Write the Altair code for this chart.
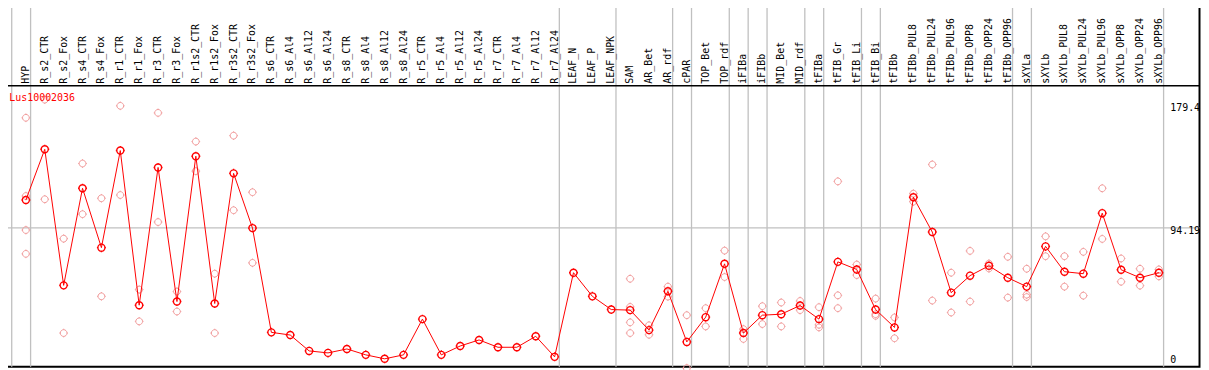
import altair as alt
import pandas as pd

gene = "Lus10002036"

samples = [
    "HYP", "R_s2_CTR", "R_s2_Fox", "R_s4_CTR", "R_s4_Fox", "R_r1_CTR", "R_r1_Fox",
    "R_r3_CTR", "R_r3_Fox", "R_r1s2_CTR", "R_r1s2_Fox", "R_r3s2_CTR", "R_r3s2_Fox",
    "R_s6_CTR", "R_s6_Al4", "R_s6_Al12", "R_s6_Al24", "R_s8_CTR", "R_s8_Al4",
    "R_s8_Al12", "R_s8_Al24", "R_r5_CTR", "R_r5_Al4", "R_r5_Al12", "R_r5_Al24",
    "R_r7_CTR", "R_r7_Al4", "R_r7_Al12", "R_r7_Al24", "LEAF_N", "LEAF_P", "LEAF_NPK",
    "SAM", "AR_Bet", "AR_rdf", "cPAR", "TOP_Bet", "TOP_rdf", "iFIBa", "iFIBb",
    "MID_Bet", "MID_rdf", "tFIBa", "tFIB_Gr", "tFIB_Li", "tFIB_Bi", "tFIBb",
    "tFIBb_PUL8", "tFIBb_PUL24", "tFIBb_PUL96", "tFIBb_OPP8", "tFIBb_OPP24",
    "tFIBb_OPP96", "sXYLa", "sXYLb", "sXYLb_PUL8", "sXYLb_PUL24", "sXYLb_PUL96",
    "sXYLb_OPP8", "sXYLb_OPP24", "sXYLb_OPP96",
]

means = [
    114.0, 150.0, 53.3, 122.3, 80.1, 149.1, 39.2, 137.1, 41.8, 145.1, 40.4, 132.9, 94.0,
    19.9, 18.0, 6.7, 5.3, 8.1, 3.9, 1.1, 3.9, 29.3, 3.9, 10.2, 14.5, 9.3, 9.3, 17.1, 2.5,
    62.3, 45.5, 36.1, 35.7, 21.5, 49.1, 13.1, 30.7, 68.6, 19.4, 32.1, 32.8, 39.0, 29.3,
    70.0, 64.6, 36.1, 23.4, 115.9, 91.2, 48.1, 60.2, 67.2, 58.7, 52.4, 81.0, 63.0, 61.6,
    104.6, 64.4, 58.7, 62.3,
]

replicates = [
    [172.4, 116.8, 92.6, 75.7], [185.3, 114.5], [86.5, 19.4], [139.9, 103.9],
    [115.2, 45.5], [180.9, 117.5], [50.3, 27.7], [175.9, 98.3], [48.9, 34.7],
    [155.5, 134.5], [61.6, 19.4], [159.7, 106.7], [119.5, 69.3],
    [], [], [], [], [], [], [], [], [], [], [], [], [], [], [], [], [], [], [],
    [58.0, 38.0, 27.0, 19.4], [24.9, 18.2], [52.4, 45.3], [32.1, -5.5],
    [37.1, 24.1], [78.0, 59.2], [22.2, 15.2], [38.5, 25.8], [41.1, 24.1],
    [42.2, 35.7], [37.8, 25.3, 23.4], [127.2, 46.2, 37.1], [68.1, 60.6],
    [43.9, 32.8, 31.6], [30.5, 15.7], [118.5, 112.8], [139.2, 42.5], [62.3, 34.0],
    [77.8, 41.8], [68.8, 65.3], [73.6, 44.6], [65.1, 46.7, 45.0], [88.1, 74.0],
    [74.0, 52.4], [77.1, 46.0], [122.3, 86.3], [72.4, 55.9], [65.1, 53.1],
    [64.6, 59.7],
]

# indices of the last sample of each group (-1 = before the first sample)
group_ends = [-1, 0, 28, 31, 34, 35, 37, 38, 39, 41, 42, 44, 45, 52, 53, 60]

tick_values = [179.4, 94.19, 0]
tick_labels = ["179.4", "94.19", "0"]
grid_values = [94.19]

W, H = 1207.5, 368
FONT = "DejaVu Sans Mono"
K = 0.5523
SHAPE = (f"M 1 0 C 1 {K} {K} 1 0 1 C -{K} 1 -1 {K} -1 0 "
         f"C -1 -{K} -{K} -1 0 -1 C {K} -1 1 -{K} 1 0 Z "
         "M 0 -1 L 0 -1.28 M 0 1 L 0 1.28 M -1 0 L -1.28 0 M 1 0 L 1.28 0")

df_mean = pd.DataFrame({"i": list(range(len(samples))), "sample": samples, "mean": means})
rep_rows = []
for i, vals in enumerate(replicates):
    for v in vals:
        rep_rows.append({"i": i, "value": v})
df_rep = pd.DataFrame(rep_rows)
df_sep = pd.DataFrame({"b": [g + 0.25 for g in group_ends]})
df_grid = pd.DataFrame({"v": grid_values})
df_ticks = pd.DataFrame({"v": tick_values, "label": tick_labels})

xs = alt.Scale(domain=[-1.3677, 62.152], nice=False, zero=False)
ys = alt.Scale(domain=[-4.589, 255.22], nice=False, zero=False)

sep = alt.Chart(df_sep).mark_rule(color="#c0c0c0", strokeWidth=1.3).encode(
    x=alt.X("b:Q", scale=xs, axis=None), y=alt.value(0), y2=alt.value(H))
grid = alt.Chart(df_grid).mark_rule(color="#c0c0c0", strokeWidth=1.3).encode(
    y=alt.Y("v:Q", scale=ys, axis=None), x=alt.value(0), x2=alt.value(W))
header = alt.Chart(pd.DataFrame({"h": [0]})).mark_rule(color="black", strokeWidth=1.5).encode(
    y=alt.value(85), x=alt.value(0), x2=alt.value(W))

labels = alt.Chart(df_mean).mark_text(
    angle=270, align="left", baseline="middle", font=FONT, fontSize=10, color="black"
).encode(x=alt.X("i:Q", scale=xs, axis=None), y=alt.value(83), text="sample:N")

reps_layer = alt.Chart(df_rep).mark_point(
    shape=SHAPE, size=46, filled=False, color="#f09a9a", strokeWidth=1, opacity=1
).encode(x=alt.X("i:Q", scale=xs, axis=None), y=alt.Y("value:Q", scale=ys, axis=None))

line = alt.Chart(df_mean).mark_line(color="#ff0000", strokeWidth=1).encode(
    x=alt.X("i:Q", scale=xs, axis=None), y=alt.Y("mean:Q", scale=ys, axis=None))

pts = alt.Chart(df_mean).mark_point(
    shape=SHAPE, size=50, filled=False, color="#ff0000", strokeWidth=1.4, opacity=1
).encode(x=alt.X("i:Q", scale=xs, axis=None), y=alt.Y("mean:Q", scale=ys, axis=None))

title = alt.Chart(pd.DataFrame({"t": [gene]})).mark_text(
    align="left", baseline="middle", font=FONT, fontSize=10, color="#ff0000"
).encode(x=alt.value(9.3), y=alt.value(97), text="t:N")

ylab_mid = alt.Chart(df_ticks[df_ticks["label"] != "94.19"]).mark_text(
    align="left", baseline="middle", font=FONT, fontSize=10, color="black"
).encode(x=alt.value(1178), y=alt.Y("v:Q", scale=ys, axis=None), text="label:N")
ylab_top = alt.Chart(df_ticks[df_ticks["label"] == "94.19"]).mark_text(
    align="left", baseline="middle", font=FONT, fontSize=10, color="black", dy=3.4
).encode(x=alt.value(1178), y=alt.Y("v:Q", scale=ys, axis=None), text="label:N")

chart = alt.layer(
    sep, grid, header, labels, reps_layer, line, pts, title, ylab_mid, ylab_top
).properties(
    width=W, height=H, autosize=alt.AutoSizeParams(type="none"),
    padding={"left": -8, "top": -8, "right": 1.5, "bottom": 2}
).configure_view(stroke="black", strokeWidth=2)

chart.save("out.html", embed_options={"renderer": "svg", "actions": False})
